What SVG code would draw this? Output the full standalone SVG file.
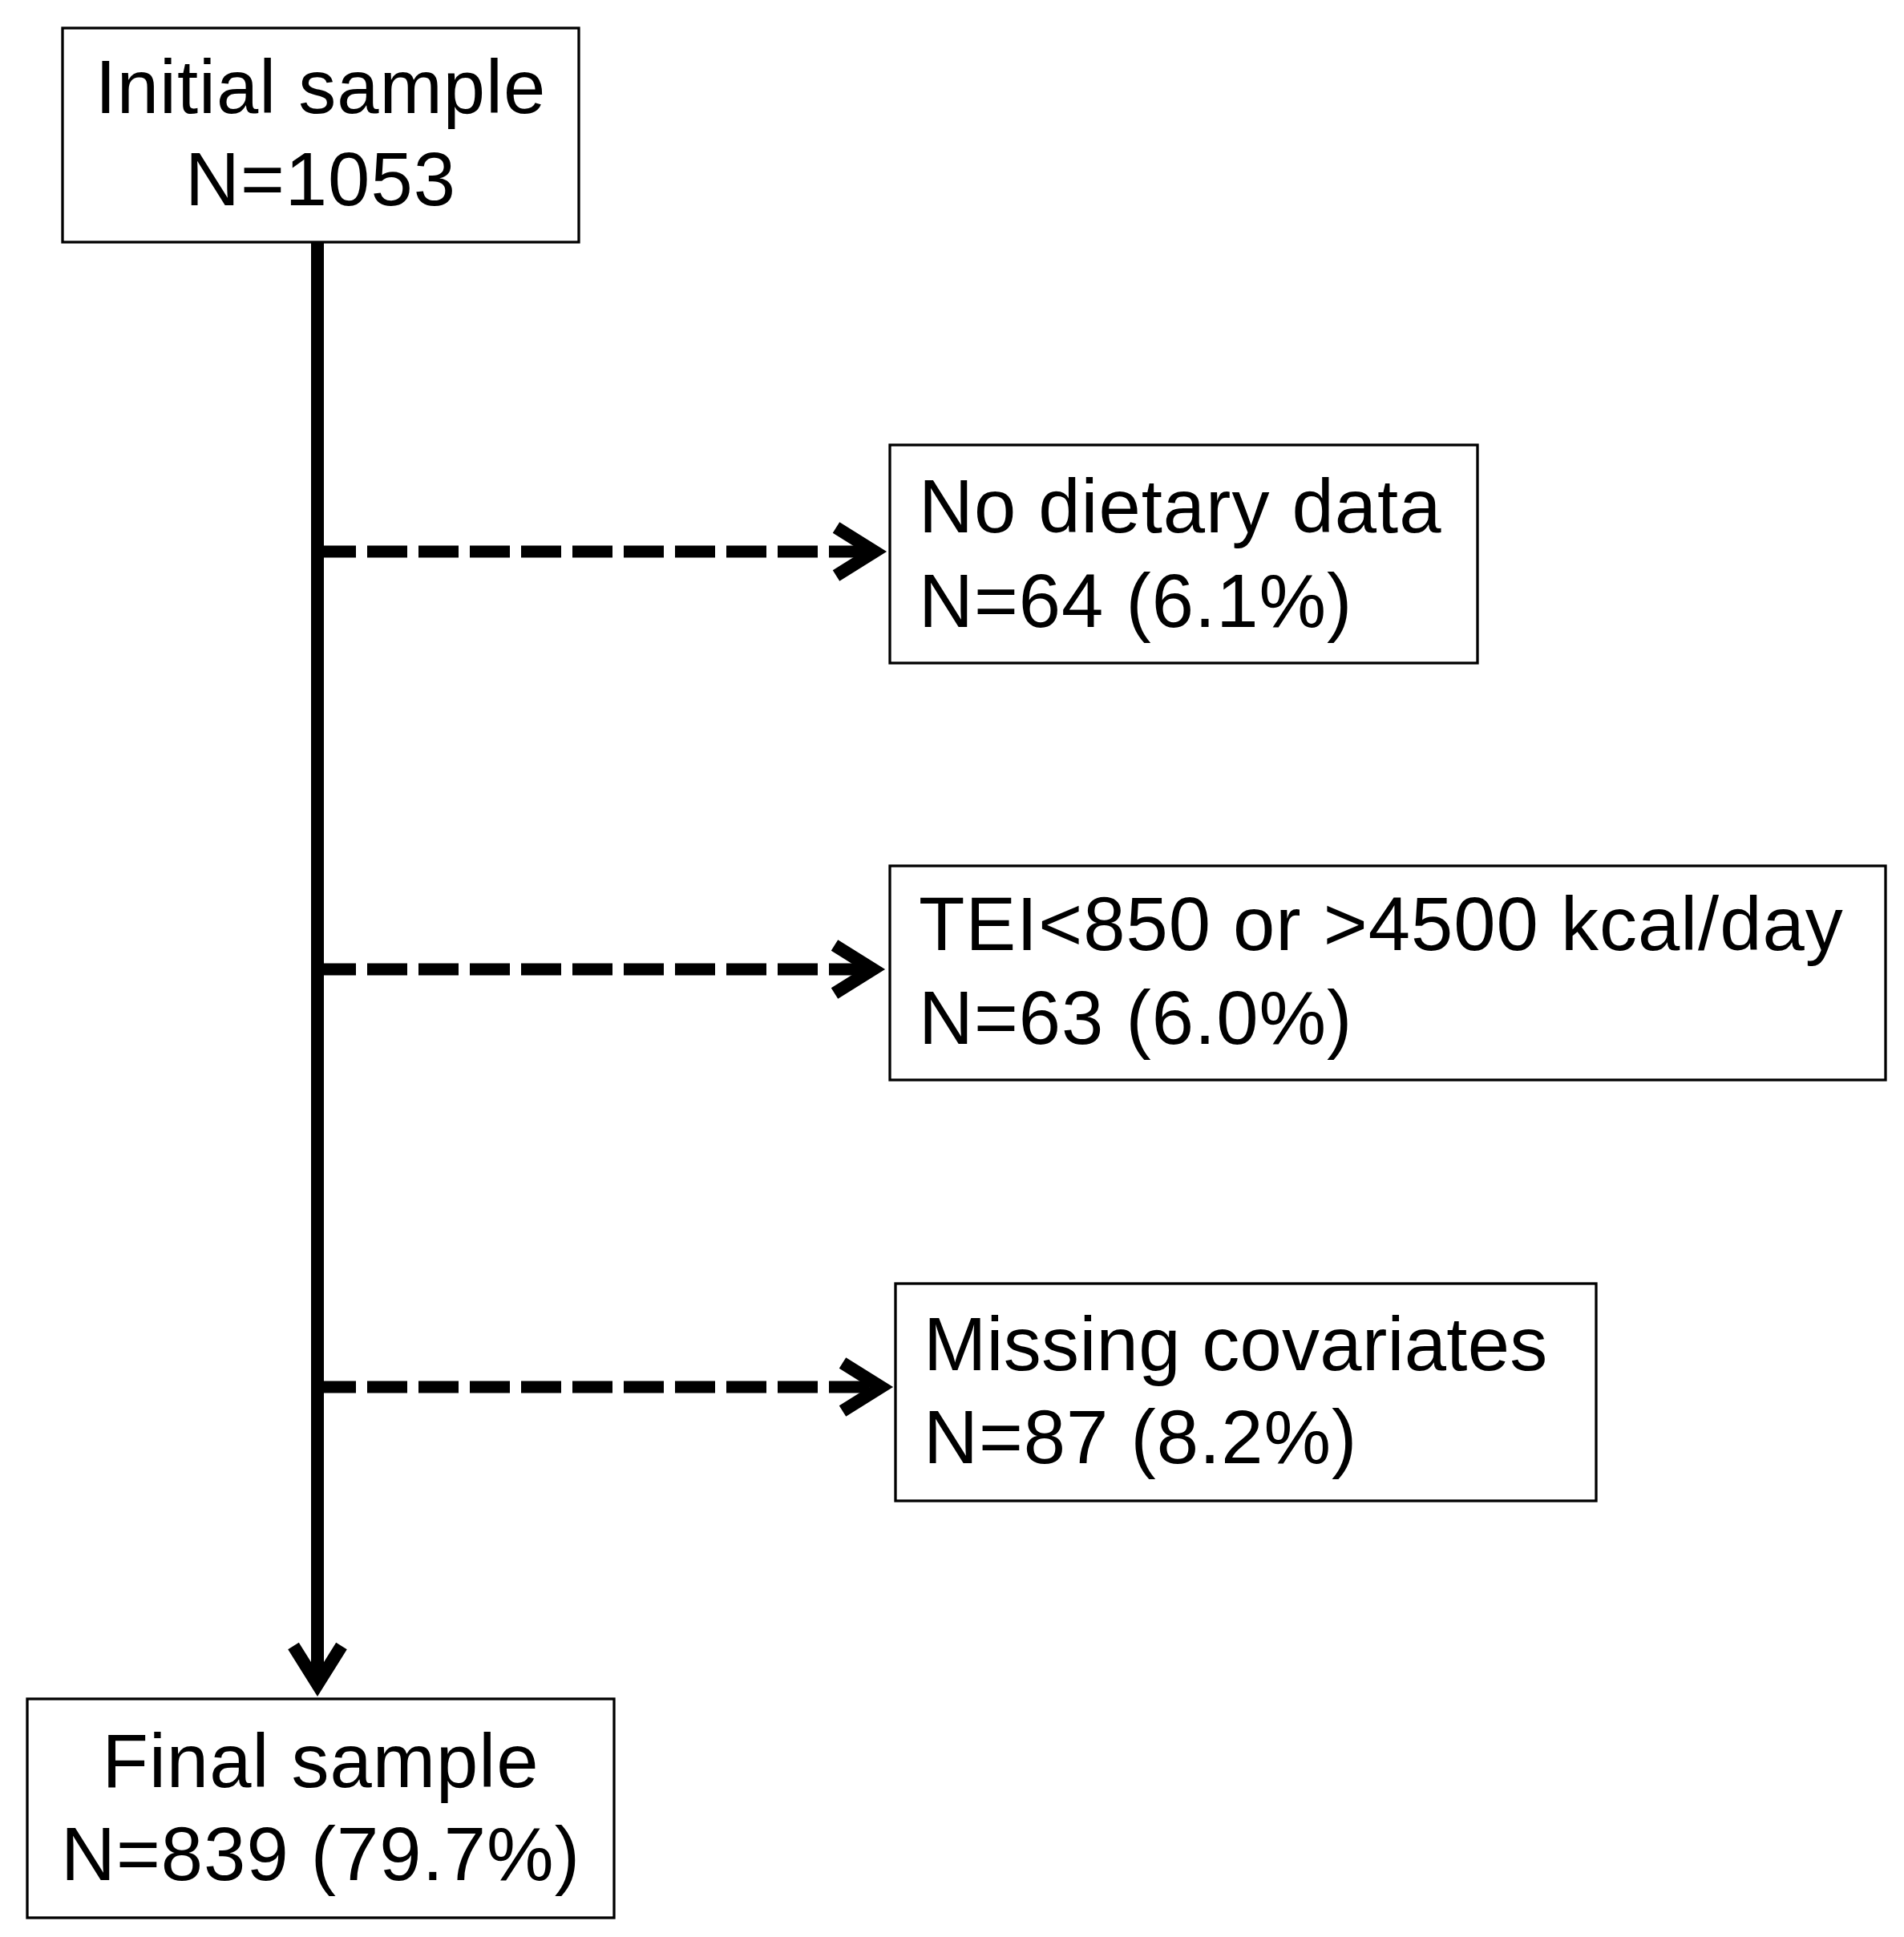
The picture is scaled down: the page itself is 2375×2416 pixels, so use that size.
<svg xmlns="http://www.w3.org/2000/svg" width="2375" height="2416" viewBox="0 0 2375 2416">
<style>
  .box { fill: #ffffff; stroke: #000000; stroke-width: 3.3; }
  .t { font-family: "Liberation Sans", Arial, sans-serif; font-size: 94px; letter-spacing: 1px; fill: #000000; }
  .c { text-anchor: middle; }
  .solid { fill: none; stroke: #000000; stroke-width: 16; }
  .dash { fill: none; stroke: #000000; stroke-width: 15; stroke-dasharray: 50 14; }
</style>
<defs>
  <marker id="chev" markerUnits="userSpaceOnUse" viewBox="-60 -40 80 80" refX="0" refY="0" markerWidth="80" markerHeight="80" orient="auto" overflow="visible">
    <path d="M -48 -30 L 0 0 L -48 30" fill="none" stroke="#000000" stroke-width="16" stroke-linejoin="miter" stroke-linecap="butt" stroke-dasharray="none"/>
  </marker>
</defs>
<rect width="2375" height="2416" fill="#ffffff"/>
<g id="connectors">
  <path class="solid" d="M 396 302 L 396 2101" marker-end="url(#chev)"/>
  <path class="dash" d="M 394 688 L 1091 688" marker-end="url(#chev)"/>
  <path class="dash" d="M 394 1209 L 1089 1209" marker-end="url(#chev)"/>
  <path class="dash" d="M 394 1730 L 1099 1730" marker-end="url(#chev)"/>
</g>
<g id="initial">
  <rect class="box" x="78" y="35" width="644" height="267"/>
  <text class="t c" x="400" y="141">Initial sample</text>
  <text class="t c" x="400" y="256">N=1053</text>
</g>
<g id="no-dietary">
  <rect class="box" x="1110" y="555" width="733" height="272"/>
  <text class="t" x="1146" y="664">No dietary data</text>
  <text class="t" x="1146" y="782">N=64 (6.1%)</text>
</g>
<g id="tei">
  <rect class="box" x="1110" y="1080" width="1242" height="267"/>
  <text class="t" x="1146" y="1185">TEI&lt;850 or &gt;4500 kcal/day</text>
  <text class="t" x="1146" y="1302">N=63 (6.0%)</text>
</g>
<g id="missing">
  <rect class="box" x="1117" y="1601" width="874" height="271"/>
  <text class="t" x="1152" y="1709" style="letter-spacing:0.3px">Missing covariates</text>
  <text class="t" x="1152" y="1825">N=87 (8.2%)</text>
</g>
<g id="final">
  <rect class="box" x="34" y="2119" width="732" height="273"/>
  <text class="t c" x="400" y="2229">Final sample</text>
  <text class="t c" x="400" y="2345">N=839 (79.7%)</text>
</g>
</svg>
